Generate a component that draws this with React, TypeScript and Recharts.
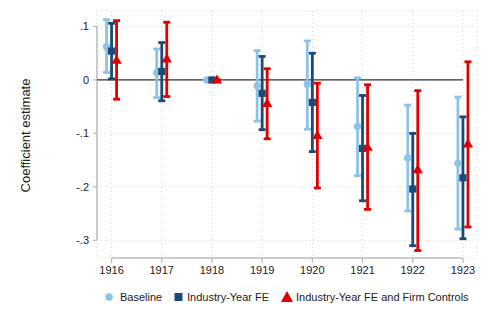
import React from "react";
import {
  ComposedChart,
  Scatter,
  ErrorBar,
  XAxis,
  YAxis,
  CartesianGrid,
  ReferenceLine,
  Legend,
} from "recharts";

// Event-study coefficients
const years = [1916, 1917, 1918, 1919, 1920, 1921, 1922, 1923];

const baselineEst = [0.062, 0.014, 0, -0.011, -0.008, -0.087, -0.146, -0.156];
const baselineLo = [0.014, -0.033, 0, -0.077, -0.092, -0.179, -0.245, -0.279];
const baselineHi = [0.113, 0.058, 0, 0.055, 0.073, 0.004, -0.047, -0.032];

const industryEst = [0.054, 0.016, 0, -0.025, -0.042, -0.128, -0.204, -0.183];
const industryLo = [0.002, -0.039, 0, -0.093, -0.134, -0.226, -0.31, -0.297];
const industryHi = [0.106, 0.07, 0, 0.044, 0.05, -0.029, -0.1, -0.069];

const firmEst = [0.037, 0.039, 0, -0.044, -0.104, -0.126, -0.168, -0.12];
const firmLo = [-0.036, -0.031, 0, -0.11, -0.202, -0.242, -0.319, -0.275];
const firmHi = [0.111, 0.108, 0, 0.021, -0.006, -0.009, -0.02, 0.034];

const yTicks = [-0.3, -0.2, -0.1, 0, 0.1];
const seriesNames = ["Baseline", "Industry-Year FE", "Industry-Year FE and Firm Controls"];

const LIGHT = "#8cc3ea";
const NAVY = "#1c4a76";
const RED = "#e00000";
const FONT = "'Liberation Sans', Arial, sans-serif";

const X_MIN = 1915.71;
const X_MAX = 1923.28;
const Y_MIN = -0.333;
const Y_MAX = 0.129;

function build(est: number[], lo: number[], hi: number[], shift: number) {
  return years.map((yr, i) => ({
    x: yr + shift,
    y: est[i],
    err: [est[i] - lo[i], hi[i] - est[i]],
  }));
}

const baselineData = build(baselineEst, baselineLo, baselineHi, -0.1);
const industryData = build(industryEst, industryLo, industryHi, 0);
const firmData = build(firmEst, firmLo, firmHi, 0.1);

function fmtTick(v: number) {
  if (v === 0) return "0";
  const s = v.toFixed(1);
  return s.replace("0.", ".");
}

const Dot = (p: any) => <circle cx={p.cx} cy={p.cy} r={3.7} fill={LIGHT} />;
const Sq = (p: any) => <rect x={p.cx - 3.6} y={p.cy - 3.6} width={7.2} height={7.2} fill={NAVY} />;
const Tri = (p: any) => (
  <polygon
    points={`${p.cx},${p.cy - 5.5} ${p.cx - 5.2},${p.cy + 3.5} ${p.cx + 5.2},${p.cy + 3.5}`}
    fill={RED}
  />
);

function LegendBox() {
  const text: React.CSSProperties = {
    position: "absolute",
    top: 0,
    fontFamily: FONT,
    fontSize: 11,
    color: "#222",
    lineHeight: "14px",
    whiteSpace: "nowrap",
  };
  return (
    <div style={{ position: "relative", width: 488, height: 36 }}>
      <svg width={488} height={20} style={{ position: "absolute", left: 0, top: 0 }}>
        <circle cx={109} cy={7} r={3.8} fill={LIGHT} />
        <rect x={174.5} y={3} width={8} height={8} fill={NAVY} />
        <polygon points="287,1 281,12 293,12" fill={RED} />
      </svg>
      <span style={{ ...text, left: 120 }}>{seriesNames[0]}</span>
      <span style={{ ...text, left: 187 }}>{seriesNames[1]}</span>
      <span style={{ ...text, left: 296 }}>{seriesNames[2]}</span>
    </div>
  );
}

export default function App() {
  return (
    <div style={{ position: "absolute", left: 0, top: 0, background: "#fff" }}>
      <ComposedChart
        width={488}
        height={326}
        margin={{ top: 11, right: 11, bottom: 0, left: 0 }}
      >
        <CartesianGrid stroke="#d0d0d0" strokeDasharray="1 3" strokeWidth={1} />
        <XAxis
          type="number"
          dataKey="x"
          domain={[X_MIN, X_MAX]}
          ticks={years}
          allowDataOverflow
          axisLine={false}
          tickLine={{ stroke: "#bdbdbd", strokeWidth: 1.3 }}
          tickSize={5}
          tickMargin={3}
          height={32}
          tick={{ fontSize: 11, fill: "#222", fontFamily: FONT }}
        />
        <YAxis
          type="number"
          dataKey="y"
          domain={[Y_MIN, Y_MAX]}
          ticks={yTicks}
          allowDataOverflow
          tickFormatter={fmtTick}
          axisLine={false}
          tickLine={{ stroke: "#bdbdbd", strokeWidth: 1.3 }}
          tickSize={4}
          tickMargin={4}
          width={97}
          tick={{ fontSize: 11, fill: "#222", fontFamily: FONT }}
          label={{
            content: (props: any) => {
              const vb = props.viewBox || { x: 0, y: 11, width: 97, height: 247 };
              const cx = vb.x + 25;
              const cy = vb.y + vb.height / 2 + 1;
              return (
                <text
                  x={cx}
                  y={cy}
                  transform={`rotate(-90 ${cx} ${cy})`}
                  textAnchor="middle"
                  dominantBaseline="central"
                  fontSize={13}
                  fontFamily={FONT}
                  fill="#222"
                >
                  Coefficient estimate
                </text>
              );
            },
          }}
        />
        {/* Stata-style axis lines that only span the tick range */}
        <ReferenceLine
          segment={[
            { x: X_MIN, y: -0.3 },
            { x: X_MIN, y: 0.1 },
          ]}
          stroke="#bdbdbd"
          strokeWidth={1.5}
          ifOverflow="visible"
        />
        <ReferenceLine
          segment={[
            { x: 1916, y: Y_MIN },
            { x: 1923, y: Y_MIN },
          ]}
          stroke="#bdbdbd"
          strokeWidth={1.5}
          ifOverflow="visible"
        />
        <ReferenceLine
          segment={[
            { x: X_MIN, y: 0 },
            { x: 1923, y: 0 },
          ]}
          stroke="#333"
          strokeWidth={1.2}
        />
        <Scatter name={seriesNames[0]} data={baselineData} shape={Dot} isAnimationActive={false}>
          <ErrorBar dataKey="err" direction="y" width={3.5} stroke={LIGHT} strokeWidth={2.8} isAnimationActive={false} />
        </Scatter>
        <Scatter name={seriesNames[1]} data={industryData} shape={Sq} isAnimationActive={false}>
          <ErrorBar dataKey="err" direction="y" width={3.5} stroke={NAVY} strokeWidth={2.8} isAnimationActive={false} />
        </Scatter>
        <Scatter name={seriesNames[2]} data={firmData} shape={Tri} isAnimationActive={false}>
          <ErrorBar dataKey="err" direction="y" width={3.5} stroke={RED} strokeWidth={2.8} isAnimationActive={false} />
        </Scatter>
        <Legend
          verticalAlign="bottom"
          height={36}
          wrapperStyle={{ left: 0, width: 488 }}
          content={() => <LegendBox />}
        />
      </ComposedChart>
    </div>
  );
}
